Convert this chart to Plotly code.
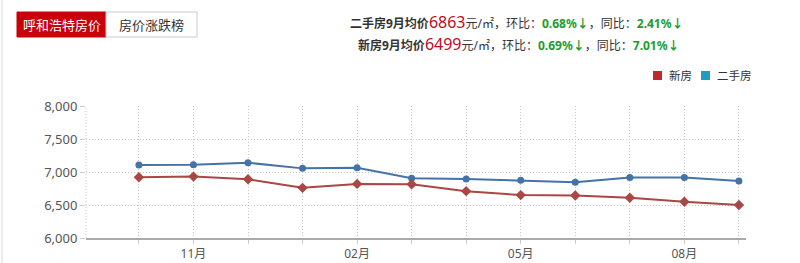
import plotly.graph_objects as go

months = ["10月", "11月", "12月", "01月", "02月", "03月", "04月", "05月", "06月", "07月", "08月", "09月"]
new_house = [6920, 6930, 6890, 6760, 6820, 6815, 6710, 6650, 6645, 6610, 6550, 6499]
second_hand = [7105, 7110, 7140, 7055, 7065, 6905, 6895, 6875, 6845, 6915, 6915, 6863]
shown_ticks = ["11月", "02月", "05月", "08月"]
y_ticks = [6000, 6500, 7000, 7500, 8000]

W, H = 800, 263
L, R, T, B = 86, 746, 106, 238
FONT = "Noto Sans, Noto Sans CJK SC, sans-serif"
DOT = "1px,2px"

def px(x):
    return (x - L) / (R - L)

def py(y):
    return (B - y) / (B - T)

idx = list(range(len(months)))
ticktext = [m if m in shown_ticks else "" for m in months]

fig = go.Figure()
fig.add_trace(go.Scatter(x=idx, y=second_hand, mode="lines+markers", name="二手房",
                         line=dict(color="#4572A7", width=2),
                         marker=dict(symbol="circle", size=7, color="#4572A7")))
fig.add_trace(go.Scatter(x=idx, y=new_house, mode="lines+markers", name="新房",
                         line=dict(color="#AA4643", width=2),
                         marker=dict(symbol="diamond", size=8, color="#AA4643")))

shapes = []
annotations = []
# page left border
shapes.append(dict(type="line", xref="paper", yref="paper", x0=px(2), x1=px(2), y0=py(0), y1=py(H),
                   line=dict(color="#dddddd", width=1)))
# left dotted axis
shapes.append(dict(type="line", xref="paper", yref="paper", x0=0, x1=0, y0=0, y1=1,
                   line=dict(color="#cccccc", width=1, dash=DOT)))
# tabs
shapes.append(dict(type="rect", xref="paper", yref="paper", x0=px(17), x1=px(106), y0=py(37), y1=py(12),
                   fillcolor="#C9000A", line=dict(color="#C9000A", width=1)))
shapes.append(dict(type="rect", xref="paper", yref="paper", x0=px(106), x1=px(197), y0=py(37), y1=py(12),
                   fillcolor="#ffffff", line=dict(color="#cccccc", width=1)))
annotations.append(dict(xref="paper", yref="paper", x=px(61.5), y=py(24.5), text="呼和浩特房价",
                        showarrow=False, font=dict(family=FONT, size=13, color="#ffffff"),
                        xanchor="center", yanchor="middle"))
annotations.append(dict(xref="paper", yref="paper", x=px(151.5), y=py(24.5), text="房价涨跌榜",
                        showarrow=False, font=dict(family=FONT, size=13, color="#333333"),
                        xanchor="center", yanchor="middle"))
# header lines
g = "#1E9B2E"
r = "#C00A1E"
line1 = ("<b>二手房9月均价</b><span style='font-size:16px;color:%s'>6863</span>元/㎡，环比：" 
         "<b><span style='color:%s'>0.68%%↓</span></b>，同比：<b><span style='color:%s'>2.41%%↓</span></b>") % (r, g, g)
line2 = ("<b>新房9月均价</b><span style='font-size:16px;color:%s'>6499</span>元/㎡，环比：" 
         "<b><span style='color:%s'>0.69%%↓</span></b>，同比：<b><span style='color:%s'>7.01%%↓</span></b>") % (r, g, g)
annotations.append(dict(xref="paper", yref="paper", x=px(517), y=py(22), text=line1, showarrow=False,
                        font=dict(family=FONT, size=12, color="#333333"), xanchor="center", yanchor="middle"))
annotations.append(dict(xref="paper", yref="paper", x=px(519), y=py(44), text=line2, showarrow=False,
                        font=dict(family=FONT, size=12, color="#333333"), xanchor="center", yanchor="middle"))
# legend
for (x0, col, label) in [(653, "#C0282D", "新房"), (701, "#1E9DC0", "二手房")]:
    shapes.append(dict(type="rect", xref="paper", yref="paper", x0=px(x0), x1=px(x0 + 9), y0=py(80), y1=py(71),
                       fillcolor=col, line=dict(width=0)))
    annotations.append(dict(xref="paper", yref="paper", x=px(x0 + 14), y=py(75.5), text=label, showarrow=False,
                            font=dict(family=FONT, size=11.5, color="#333333"), xanchor="left", yanchor="middle"))

fig.update_layout(
    width=W, height=H,
    margin=dict(l=L, r=W - R, t=T, b=H - B),
    paper_bgcolor="#ffffff", plot_bgcolor="#ffffff",
    showlegend=False,
    shapes=shapes, annotations=annotations,
    xaxis=dict(range=[-0.97, 11.13], tickmode="array", tickvals=idx, ticktext=ticktext,
               showgrid=True, gridcolor="#c8c8c8", griddash=DOT, gridwidth=1,
               showline=True, linecolor="#aaaaaa", linewidth=2, automargin=False,
               ticks="outside", ticklen=4, tickcolor="#cccccc",
               tickfont=dict(family=FONT, size=12, color="#555555"), zeroline=False, fixedrange=True),
    yaxis=dict(range=[6000, 8000], tickvals=y_ticks, tickformat=",", automargin=False,
               showgrid=True, gridcolor="#c8c8c8", griddash=DOT, gridwidth=1,
               showline=False, ticks="outside", ticklen=5, tickcolor="#cccccc",
               tickfont=dict(family=FONT, size=13, color="#555555"), zeroline=False, fixedrange=True),
)

fig.write_html("out.html", config={"displayModeBar": False})
